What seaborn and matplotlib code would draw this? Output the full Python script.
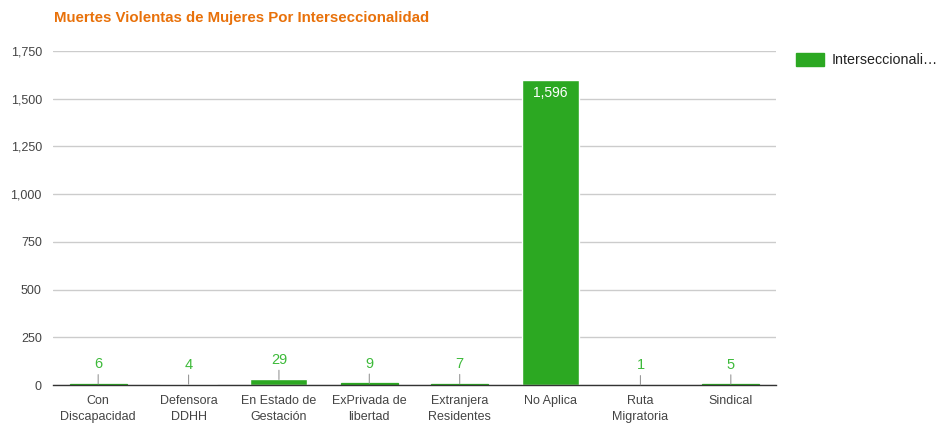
import matplotlib
matplotlib.use("Agg")
import matplotlib.pyplot as plt
import seaborn as sns
import pandas as pd
from matplotlib.patches import Patch

categories = ["Con\nDiscapacidad", "Defensora\nDDHH", "En Estado de\nGestación",
              "ExPrivada de\nlibertad", "Extranjera\nResidentes", "No Aplica",
              "Ruta\nMigratoria", "Sindical"]
values = [6, 4, 29, 9, 7, 1596, 1, 5]
yticks = [0, 250, 500, 750, 1000, 1250, 1500, 1750]
series_name = "Interseccionali…"
title = "Muertes Violentas de Mujeres Por Interseccionalidad"

GREEN = "#2ca822"
LABEL_GREEN = "#3dba3a"

sns.set_style("white")
plt.rcParams['font.family'] = ['Liberation Sans', 'DejaVu Sans']

fig = plt.figure(figsize=(9.39, 4.24), dpi=100)
ax = fig.add_axes([53/939, 39/424, 723/939, 334/424])

df = pd.DataFrame({"cat": categories, "val": values})
sns.barplot(data=df, x="cat", y="val", color=GREEN, saturation=1, width=0.63, ax=ax, zorder=3)

# thin outline so that tiny bars remain visible, as in the reference rendering
for patch, v in zip(ax.patches, values):
    if 5 <= v < 20:
        patch.set_edgecolor(GREEN)
        patch.set_linewidth(0.9)

ax.set_ylim(0, 1750)
ax.set_xlim(-0.5, len(categories) - 0.5)
ax.set_yticks(yticks)
ax.set_yticklabels([f"{v:,}" for v in yticks], fontsize=9, color="#444444")
ax.tick_params(axis="x", labelsize=9, colors="#444444", length=0, pad=7.5)
ax.tick_params(axis="y", length=0, pad=8)
for lbl in ax.get_xticklabels():
    lbl.set_linespacing(1.4)
ax.set_xlabel("")
ax.set_ylabel("")
ax.grid(axis="y", color="#cccccc", linewidth=1, zorder=0)
for s in ["top", "right", "left"]:
    ax.spines[s].set_visible(False)
ax.spines["bottom"].set_color("#333333")
ax.spines["bottom"].set_linewidth(1)
ax.spines["bottom"].set_zorder(4)

for i, v in enumerate(values):
    if v > 200:
        ax.annotate(f"{v:,}", xy=(i, v), xytext=(0, -4), textcoords="offset points",
                    ha="center", va="top", color="white", fontsize=10, zorder=5)
    else:
        ax.annotate(f"{v:,}", xy=(i, v), xytext=(0, 9), textcoords="offset points",
                    ha="center", va="bottom", color=LABEL_GREEN, fontsize=10.5,
                    arrowprops=dict(arrowstyle="-", color="#999999", lw=0.8,
                                    shrinkA=0, shrinkB=0), zorder=5)

fig.text(54/939, 1 - 18/424, title, color="#e8710a", fontsize=10.8, fontweight="bold",
         ha="left", va="center")

handles = [Patch(facecolor=GREEN, edgecolor=GREEN, label=series_name)]
fig.legend(handles=handles, loc="upper left", bbox_to_anchor=(790/939, 1 - 47/424),
           frameon=False, fontsize=10.3, handlelength=1.95, handleheight=1.0,
           labelcolor="#222222", handletextpad=0.55, borderaxespad=0)

fig.savefig("out.png", dpi=100)
